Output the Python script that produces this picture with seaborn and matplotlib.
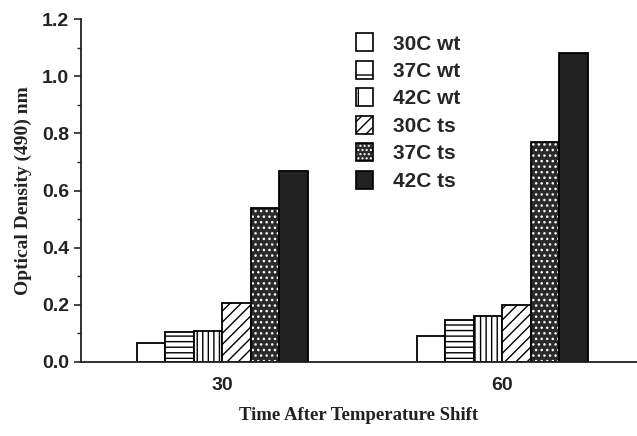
import matplotlib
matplotlib.use("Agg")
import matplotlib.pyplot as plt
import seaborn as sns
import pandas as pd
from matplotlib.patches import Patch
from matplotlib.ticker import MultipleLocator

times = ["30", "60"]
conditions = ["30C wt", "37C wt", "42C wt", "30C ts", "37C ts", "42C ts"]
od_30 = [0.066, 0.104, 0.108, 0.205, 0.54, 0.667]
od_60 = [0.090, 0.145, 0.160, 0.198, 0.77, 1.08]

rows = []
for t, vals in zip(times, [od_30, od_60]):
    for c, v in zip(conditions, vals):
        rows.append({"time": t, "cond": c, "od": v})
df = pd.DataFrame(rows)

sns.set_style("ticks")
plt.rcParams["hatch.linewidth"] = 1.0

styles = {
    "30C wt": dict(face="white", hatch="", hcolor="black"),
    "37C wt": dict(face="white", hatch="---", hcolor="black"),
    "42C wt": dict(face="white", hatch="|||", hcolor="black"),
    "30C ts": dict(face="white", hatch="///", hcolor="black"),
    "37C ts": dict(face="#2a2a2a", hatch="...", hcolor="white"),
    "42C ts": dict(face="#222222", hatch="", hcolor="black"),
}
leg_hatch = {"30C wt": "", "37C wt": "-", "42C wt": "|", "30C ts": "///",
             "37C ts": "....", "42C ts": ""}

fig = plt.figure(figsize=(6.37, 4.36), dpi=100)
ax = fig.add_axes([0.127, 0.170, 0.873, 0.786])

sns.barplot(data=df, x="time", y="od", hue="cond", order=times,
            hue_order=conditions, width=0.61, gap=0, ax=ax,
            palette=["white"] * 6, edgecolor="black", linewidth=1.3,
            legend=False)

for cont, c in zip(ax.containers, conditions):
    st = styles[c]
    for p in cont.patches:
        p.set_facecolor(st["face"])
        p.set_edgecolor("black")
        p.set_hatch(st["hatch"])
        p._hatch_color = matplotlib.colors.to_rgba(st["hcolor"])

handles = []
for c in conditions:
    st = styles[c]
    h = Patch(facecolor=st["face"], edgecolor="black", hatch=leg_hatch[c],
              linewidth=1.2, label=c)
    h._hatch_color = matplotlib.colors.to_rgba(st["hcolor"])
    handles.append(h)

ax.legend(handles=handles, loc="upper left", bbox_to_anchor=(0.472, 0.995),
          frameon=False, prop=dict(family="Liberation Sans", weight="bold", size=15),
          handlelength=0.8, handleheight=0.95, handletextpad=1.0,
          labelspacing=0.35, borderaxespad=0.2)

ax.set_ylim(0, 1.2)
ax.set_xlim(-0.504, 1.48)
ax.yaxis.set_major_locator(MultipleLocator(0.2))
ax.yaxis.set_minor_locator(MultipleLocator(0.1))
ax.yaxis.set_major_formatter(matplotlib.ticker.FormatStrFormatter("%.1f"))
ax.tick_params(axis="y", which="major", length=5, width=1.2, direction="out")
ax.tick_params(axis="y", which="minor", length=3, width=1.0, direction="out")
ax.tick_params(axis="x", length=0, pad=11)
for lab in ax.get_xticklabels() + ax.get_yticklabels():
    lab.set_fontfamily("Liberation Sans")
    lab.set_fontweight("bold")
    lab.set_fontsize(14)
    lab.set_color("#222222")

ax.set_xlabel("Time After Temperature Shift", family="Liberation Serif",
              weight="bold", size=13.5, labelpad=9, color="#222222")
ax.set_ylabel("Optical Density (490) nm", family="Liberation Serif",
              weight="bold", size=14, labelpad=7, color="#222222")

sns.despine(ax=ax, top=True, right=True)
for s in ["left", "bottom"]:
    ax.spines[s].set_linewidth(1.3)
    ax.spines[s].set_color("#222222")

fig.savefig("out.png", dpi=100)
